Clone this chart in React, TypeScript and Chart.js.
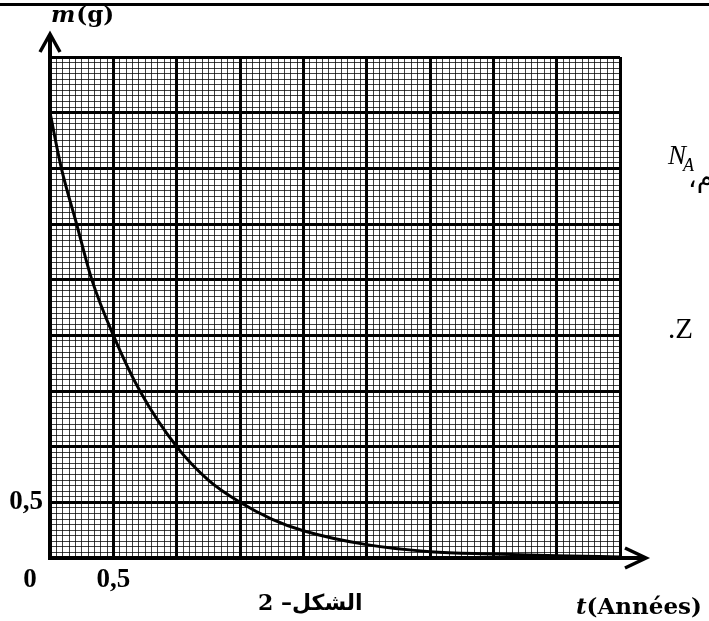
import React, { useEffect, useRef } from 'react';
import { Chart, registerables } from 'chart.js';

Chart.register(...registerables);

// ---- data ----
const timeYears = [0, 0.09, 0.21, 0.33, 0.5, 0.71, 1.0, 1.25, 1.5, 1.75, 2.0, 2.5, 3.0, 3.5, 4.0, 4.5];
const massGrams = [4.0, 3.5, 3.0, 2.5, 2.0, 1.5, 1.0, 0.7, 0.5, 0.35, 0.245, 0.12, 0.057, 0.036, 0.02, 0.01];

const xRange = [0, 4.5];
const yRange = [0, 4.5];
const minorStep = 0.05;
const majorStep = 0.5;
const xLabeledTicks = [0.5];
const yLabeledTicks = [0.5];
const tickLabelText = '0,5';
const originLabel = '0';
const yTitleItalic = 'm';
const yTitleRest = '(g)';
const xTitleItalic = 't';
const xTitleRest = '(Années)';
const caption = 'الشكل– 2';
const sideNA = ['N', 'A'];
const sideComma = 'م،';
const sideZ = '.Z';

const isMajor = (v: number) => Math.abs(v / majorStep - Math.round(v / majorStep)) < 1e-6;
const near = (v: number, list: number[]) => list.some((t) => Math.abs(t - v) < 1e-6);

const decorPlugin = {
  id: 'decor',
  afterDraw(chart: any) {
    const ctx = chart.ctx as CanvasRenderingContext2D;
    const xs = chart.scales.x;
    const ys = chart.scales.y;
    const x0 = xs.getPixelForValue(0);
    const y0 = ys.getPixelForValue(0);
    ctx.save();
    ctx.fillStyle = '#000';
    ctx.strokeStyle = '#000';
    // top rule of the page
    ctx.fillRect(0, 3, 709, 3);
    // axes
    ctx.lineWidth = 4;
    ctx.beginPath();
    ctx.moveTo(x0, y0 + 2);
    ctx.lineTo(x0, 35);
    ctx.stroke();
    ctx.beginPath();
    ctx.moveTo(x0 - 2, y0);
    ctx.lineTo(645, y0);
    ctx.stroke();
    // arrow heads
    ctx.lineWidth = 3.5;
    ctx.lineJoin = 'miter';
    ctx.beginPath();
    ctx.moveTo(x0 - 10, 52);
    ctx.lineTo(x0, 34);
    ctx.lineTo(x0 + 10, 52);
    ctx.stroke();
    ctx.beginPath();
    ctx.moveTo(625, y0 - 10);
    ctx.lineTo(646, y0);
    ctx.lineTo(625, y0 + 10);
    ctx.stroke();

    // y title m(g)
    ctx.textBaseline = 'middle';
    ctx.textAlign = 'left';
    ctx.font = "italic bold 23px 'DejaVu Serif'";
    ctx.fillText(yTitleItalic, 51, 16);
    const mw = ctx.measureText(yTitleItalic).width;
    ctx.font = "bold 23px 'DejaVu Serif'";
    ctx.fillText(yTitleRest, 51 + mw + 1, 16);

    // x title t(Années)
    ctx.font = "italic bold 23px 'DejaVu Serif'";
    ctx.fillText(xTitleItalic, 576, 608);
    const tw = ctx.measureText(xTitleItalic).width;
    ctx.font = "bold 23px 'DejaVu Serif'";
    ctx.fillText(xTitleRest, 576 + tw, 608);

    // origin label
    ctx.font = "bold 27px 'Liberation Serif'";
    ctx.textAlign = 'center';
    ctx.fillText(originLabel, 30, 580);

    // caption
    ctx.textAlign = 'left';
    (ctx as any).direction = 'rtl';
    ctx.font = "bold 22px 'DejaVu Serif', 'DejaVu Sans'";
    ctx.fillText(caption, 258, 604);
    (ctx as any).direction = 'ltr';

    // fragments of surrounding text on the right
    ctx.font = "italic 27px 'Liberation Serif'";
    ctx.fillText(sideNA[0], 668, 157);
    const nw = ctx.measureText(sideNA[0]).width;
    ctx.font = "italic 18px 'Liberation Serif'";
    ctx.fillText(sideNA[1], 668 + nw - 3, 166);
    (ctx as any).direction = 'rtl';
    ctx.font = "27px 'DejaVu Sans'";
    ctx.fillText(sideComma, 688, 180);
    (ctx as any).direction = 'ltr';
    ctx.font = "29px 'Liberation Serif'";
    ctx.fillText(sideZ, 668, 330);
    ctx.restore();
  },
};

export default function App() {
  const ref = useRef<HTMLCanvasElement | null>(null);
  useEffect(() => {
    if (!ref.current) return;
    const gridColor = (c: any) => (c.tick && isMajor(c.tick.value) ? '#000' : 'rgba(0,0,0,0.75)');
    const gridWidth = (c: any) => (c.tick && isMajor(c.tick.value) ? 3 : 1);
    const tickFont = { family: 'Liberation Serif', weight: 'bold' as const, size: 27 };
    const chart = new Chart(ref.current, {
      type: 'line',
      data: {
        datasets: [
          {
            data: timeYears.map((t, i) => ({ x: t, y: massGrams[i] })),
            borderColor: '#000',
            borderWidth: 3,
            pointRadius: 0,
            cubicInterpolationMode: 'monotone',
            fill: false,
          },
        ],
      },
      options: {
        responsive: false,
        animation: false,
        devicePixelRatio: 1,
        layout: { padding: { left: 0, right: 89, top: 57, bottom: 0 } },
        plugins: { legend: { display: false }, tooltip: { enabled: false }, title: { display: false } },
        scales: {
          x: {
            type: 'linear',
            min: xRange[0],
            max: xRange[1],
            afterFit: (s: any) => {
              s.height = 63;
            },
            border: { display: false },
            grid: { color: gridColor, lineWidth: gridWidth, drawTicks: false },
            ticks: {
              stepSize: minorStep,
              autoSkip: false,
              maxRotation: 0,
              minRotation: 0,
              maxTicksLimit: 500,
              padding: 6,
              color: '#000',
              font: tickFont,
              callback: (v: any) => (near(Number(v), xLabeledTicks) ? tickLabelText : ''),
            },
          },
          y: {
            type: 'linear',
            min: yRange[0],
            max: yRange[1],
            afterFit: (s: any) => {
              s.width = 50;
            },
            border: { display: false },
            grid: { color: gridColor, lineWidth: gridWidth, drawTicks: false },
            ticks: {
              stepSize: minorStep,
              autoSkip: false,
              maxTicksLimit: 500,
              padding: 7,
              color: '#000',
              font: tickFont,
              callback: (v: any) => (near(Number(v), yLabeledTicks) ? tickLabelText : ''),
            },
          },
        },
      },
      plugins: [decorPlugin],
    } as any);
    return () => chart.destroy();
  }, []);
  return (
    <div style={{ position: 'fixed', left: 0, top: 0, width: 709, height: 621, background: '#fff' }}>
      <canvas ref={ref} width={709} height={621} style={{ display: 'block' }} />
    </div>
  );
}
